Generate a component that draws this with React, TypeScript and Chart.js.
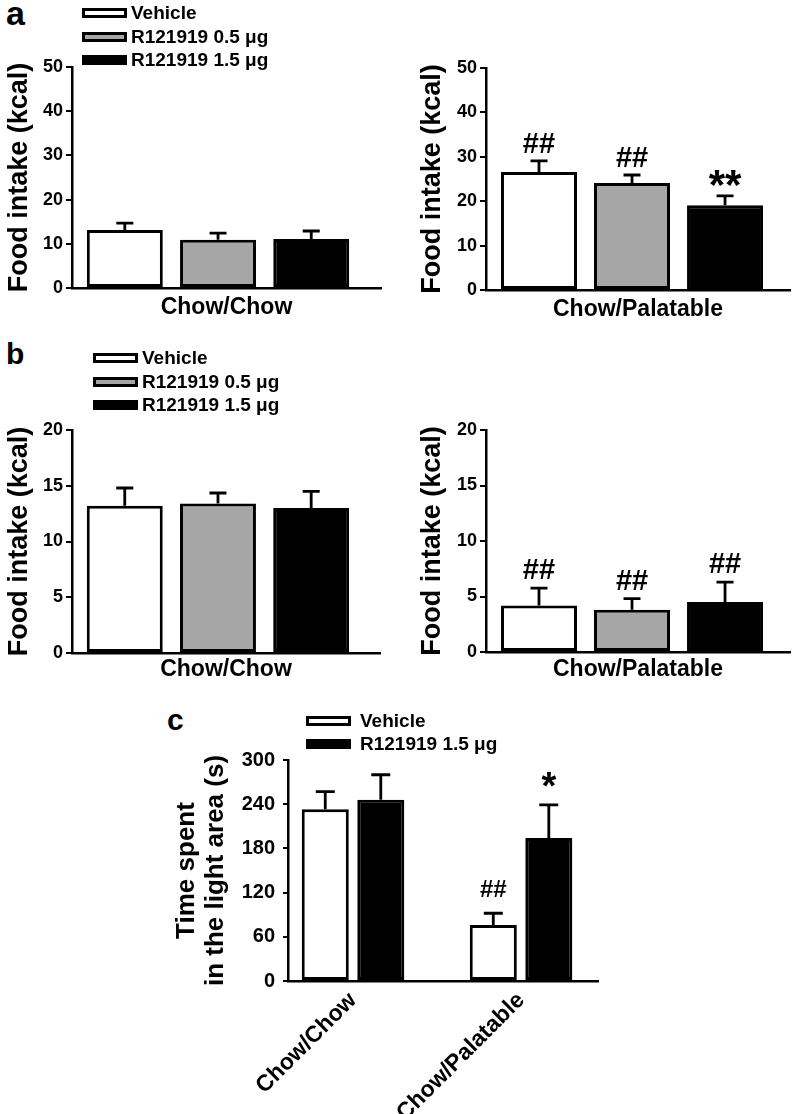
import React, { useEffect, useRef } from 'react';
import { Chart, registerables } from 'chart.js';

Chart.register(...registerables);

const FONT = "'Liberation Sans', Arial, Helvetica, sans-serif";

// ---------------- data ----------------
const dietGroups = ['Chow/Chow', 'Chow/Palatable'];
const treatmentsAB = ['Vehicle', 'R121919 0.5 μg', 'R121919 1.5 μg'];
const treatmentColorsAB = ['#ffffff', '#a6a6a6', '#000000'];
const treatmentsC = ['Vehicle', 'R121919 1.5 μg'];
const treatmentColorsC = ['#ffffff', '#000000'];

const foodTicksA = [0, 10, 20, 30, 40, 50];
const foodTicksB = [0, 5, 10, 15, 20];
const timeTicks = [0, 60, 120, 180, 240, 300];

// panel a (index = treatment)
const aChowMeans = [13.1, 10.9, 11.1];
const aChowSem = [1.6, 1.5, 1.8];
const aChowMarks = ['', '', ''];
const aPalMeans = [26.6, 24.1, 19.1];
const aPalSem = [2.5, 1.8, 2.1];
const aPalMarks = ['##', '##', '**'];

// panel b (index = treatment)
const bChowMeans = [13.2, 13.4, 13.0];
const bChowSem = [1.6, 0.95, 1.5];
const bChowMarks = ['', '', ''];
const bPalMeans = [4.2, 3.8, 4.5];
const bPalSem = [1.55, 1.0, 1.8];
const bPalMarks = ['##', '##', '##'];

// panel c (index = diet group)
const cVehicleMeans = [233, 76];
const cVehicleSem = [24, 16];
const cVehicleMarks = ['', '##'];
const cR15Means = [246, 194];
const cR15Sem = [34, 45];
const cR15Marks = ['', '*'];

// ---------------- helpers ----------------
type Series = { label: string; color: string; means: number[]; sems: number[]; marks: string[] };
type Box = { left: number; top: number; width: number; height: number };
type Area = { left: number; top: number; right: number; bottom: number };
type PanelSpec = {
  box: Box;
  area: Area;
  xRange: [number, number];
  xPositions: number[];
  xLabels?: string[];
  xLabelSize?: number;
  xLabelPad?: number;
  series: Series[];
  catPct: number;
  barPct: number;
  yTicks: number[];
  yTitle: string | string[];
  yTitleSize: number;
  yTitleLine: number;
  yTitleCenterX: number;
  xTitle?: string;
  xTitleCenterY?: number;
  tickSize: number;
  tickLength: number;
  tickPad: number;
  hashSize: number;
  starSize: number;
  markGap: number;
  capWidth: number;
};

function makeErrorPlugin(spec: PanelSpec) {
  return {
    id: 'errorBarsAndMarks',
    afterDatasetsDraw(chart: any) {
      const ctx = chart.ctx as CanvasRenderingContext2D;
      const yScale = chart.scales.y;
      chart.data.datasets.forEach((ds: any, di: number) => {
        const meta = chart.getDatasetMeta(di);
        const se = spec.series[di];
        meta.data.forEach((el: any, j: number) => {
          const v = ds.data[j].y;
          const top = yScale.getPixelForValue(v + se.sems[j]);
          ctx.save();
          ctx.strokeStyle = '#000';
          ctx.lineWidth = 2.8;
          ctx.beginPath();
          ctx.moveTo(el.x, el.y);
          ctx.lineTo(el.x, top);
          ctx.moveTo(el.x - spec.capWidth / 2, top);
          ctx.lineTo(el.x + spec.capWidth / 2, top);
          ctx.stroke();
          const m = se.marks[j];
          if (m) {
            const size = m.includes('*') ? spec.starSize : spec.hashSize;
            ctx.font = `bold ${size}px ${FONT}`;
            ctx.textAlign = 'center';
            ctx.textBaseline = 'alphabetic';
            ctx.fillStyle = '#000';
            const mt = ctx.measureText(m);
            const center = top - spec.markGap;
            const base = center + (mt.actualBoundingBoxAscent - mt.actualBoundingBoxDescent) / 2;
            ctx.fillText(m, el.x, base);
          }
          ctx.restore();
        });
      });
    },
  };
}

function BarPanel({ spec }: { spec: PanelSpec }) {
  const ref = useRef<HTMLCanvasElement>(null);
  useEffect(() => {
    const s = spec;
    const padTop = s.area.top - s.box.top;
    const padRight = s.box.left + s.box.width - s.area.right;
    const yWidth = s.area.left - s.box.left;
    const xHeight = s.box.top + s.box.height - s.area.bottom;
    const yLh = s.yTitleSize * s.yTitleLine;
    const yTitlePadTop = s.yTitleCenterX - s.box.left - yLh / 2;
    const xTitleSize = 23;
    const xLh = xTitleSize * 1.2;
    const xTitlePadBottom = s.xTitleCenterY ? s.box.top + s.box.height - s.xTitleCenterY - xLh / 2 : 0;
    const boldFont = (size: number, lineHeight = 1.2) => ({ family: FONT, size, weight: 'bold' as const, lineHeight });

    const chart = new Chart(ref.current as HTMLCanvasElement, {
      type: 'bar',
      data: {
        datasets: s.series.map((se) => ({
          label: se.label,
          data: se.means.map((m, i) => ({ x: s.xPositions[i], y: m })),
          backgroundColor: se.color,
          borderColor: '#000',
          borderWidth: 3,
          borderSkipped: false,
          categoryPercentage: s.catPct,
          barPercentage: s.barPct,
        })) as any,
      },
      options: {
        responsive: false,
        animation: false,
        devicePixelRatio: 1,
        events: [],
        layout: { padding: { left: 0, top: padTop, right: padRight, bottom: 0 } },
        plugins: { legend: { display: false }, tooltip: { enabled: false }, title: { display: false } },
        scales: {
          x: {
            type: 'linear',
            min: s.xRange[0],
            max: s.xRange[1],
            offset: false,
            afterBuildTicks: (sc: any) => {
              sc.ticks = s.xPositions.map((v) => ({ value: v }));
            },
            afterFit: (sc: any) => {
              sc.height = xHeight;
            },
            grid: { display: true, drawOnChartArea: false, drawTicks: false },
            border: { display: true, color: '#000', width: 2.5 },
            ticks: s.xLabels
              ? {
                  display: true,
                  autoSkip: false,
                  minRotation: 45,
                  maxRotation: 45,
                  color: '#000',
                  padding: s.xLabelPad ?? 3,
                  font: boldFont(s.xLabelSize ?? 23),
                  callback: (v: any) => {
                    const i = s.xPositions.indexOf(Number(v));
                    return i >= 0 ? (s.xLabels as string[])[i] : '';
                  },
                }
              : { display: false },
            title: s.xTitle
              ? {
                  display: true,
                  text: s.xTitle,
                  color: '#000',
                  font: boldFont(xTitleSize),
                  padding: { top: 0, bottom: xTitlePadBottom },
                }
              : { display: false },
          } as any,
          y: {
            type: 'linear',
            min: s.yTicks[0],
            max: s.yTicks[s.yTicks.length - 1],
            afterBuildTicks: (sc: any) => {
              sc.ticks = s.yTicks.map((v) => ({ value: v }));
            },
            afterFit: (sc: any) => {
              sc.width = yWidth;
            },
            grid: {
              display: true,
              drawOnChartArea: false,
              drawTicks: true,
              tickLength: s.tickLength,
              color: '#000',
              lineWidth: 2,
            },
            border: { display: true, color: '#000', width: 2.5 },
            ticks: {
              color: '#000',
              padding: s.tickPad,
              font: boldFont(s.tickSize),
              callback: (v: any) => String(v),
            },
            title: {
              display: true,
              text: s.yTitle,
              color: '#000',
              font: boldFont(s.yTitleSize, s.yTitleLine),
              padding: { top: yTitlePadTop, bottom: 0 },
            },
          } as any,
        },
      },
      plugins: [makeErrorPlugin(s)],
    });
    return () => chart.destroy();
  }, [spec]);
  return (
    <canvas
      ref={ref}
      width={spec.box.width}
      height={spec.box.height}
      style={{
        position: 'absolute',
        left: spec.box.left,
        top: spec.box.top,
        width: spec.box.width,
        height: spec.box.height,
      }}
    />
  );
}

function Legend({
  rectLeft,
  textLeft,
  firstCenter,
  rowGap,
  labels,
  colors,
}: {
  rectLeft: number;
  textLeft: number;
  firstCenter: number;
  rowGap: number;
  labels: string[];
  colors: string[];
}) {
  return (
    <>
      {labels.map((lab, i) => {
        const c = firstCenter + i * rowGap;
        return (
          <React.Fragment key={lab}>
            <div
              style={{
                position: 'absolute',
                left: rectLeft,
                top: c - 5,
                width: 45,
                height: 10,
                boxSizing: 'border-box',
                border: '3px solid #000',
                background: colors[i],
              }}
            />
            <span
              style={{
                position: 'absolute',
                left: textLeft,
                top: c - 12,
                lineHeight: '24px',
                fontSize: 19,
                fontWeight: 'bold',
                whiteSpace: 'nowrap',
              }}
            >
              {lab}
            </span>
          </React.Fragment>
        );
      })}
    </>
  );
}

function Letter({ text, left, top, size }: { text: string; left: number; top: number; size: number }) {
  return (
    <span style={{ position: 'absolute', left, top, fontSize: size, lineHeight: 1, fontWeight: 'bold' }}>{text}</span>
  );
}

const foodTitle = 'Food intake (kcal)';
const timeTitle = ['Time spent', 'in the light area (s)'];

const common = {
  yTitleSize: 27,
  yTitleLine: 1.2,
  tickSize: 18,
  tickLength: 6,
  tickPad: 3,
  hashSize: 29,
  starSize: 42,
  markGap: 18,
  capWidth: 17,
};

function seriesAB(means: number[], sems: number[], marks: string[]): Series[] {
  return treatmentsAB.map((label, i) => ({
    label,
    color: treatmentColorsAB[i],
    means: [means[i]],
    sems: [sems[i]],
    marks: [marks[i]],
  }));
}

const specALeft: PanelSpec = {
  ...common,
  box: { left: 0, top: 50, width: 395, height: 280 },
  area: { left: 72, top: 67, right: 381, bottom: 288 },
  xRange: [0, 2.116],
  xPositions: [1],
  series: seriesAB(aChowMeans, aChowSem, aChowMarks),
  catPct: 0.905,
  barPct: 0.815,
  yTicks: foodTicksA,
  yTitle: foodTitle,
  yTitleCenterX: 20,
  xTitle: dietGroups[0],
  xTitleCenterY: 308,
};

const specARight: PanelSpec = {
  ...common,
  box: { left: 400, top: 50, width: 398, height: 280 },
  area: { left: 486, top: 68, right: 790, bottom: 290 },
  xRange: [0, 2.082],
  xPositions: [1],
  series: seriesAB(aPalMeans, aPalSem, aPalMarks),
  catPct: 0.918,
  barPct: 0.817,
  yTicks: foodTicksA,
  yTitle: foodTitle,
  yTitleCenterX: 433,
  xTitle: dietGroups[1],
  xTitleCenterY: 310,
};

const specBLeft: PanelSpec = {
  ...common,
  box: { left: 0, top: 410, width: 395, height: 280 },
  area: { left: 72, top: 430, right: 380, bottom: 653 },
  xRange: [0, 2.11],
  xPositions: [1],
  series: seriesAB(bChowMeans, bChowSem, bChowMarks),
  catPct: 0.908,
  barPct: 0.815,
  yTicks: foodTicksB,
  yTitle: foodTitle,
  yTitleCenterX: 20,
  xTitle: dietGroups[0],
  xTitleCenterY: 670,
};

const specBRight: PanelSpec = {
  ...common,
  box: { left: 400, top: 410, width: 398, height: 280 },
  area: { left: 486, top: 430, right: 790, bottom: 652 },
  xRange: [0, 2.082],
  xPositions: [1],
  series: seriesAB(bPalMeans, bPalSem, bPalMarks),
  catPct: 0.918,
  barPct: 0.817,
  yTicks: foodTicksB,
  yTitle: foodTitle,
  yTitleCenterX: 433,
  xTitle: dietGroups[1],
  xTitleCenterY: 670,
  markGap: 19,
};

const specC: PanelSpec = {
  ...common,
  box: { left: 150, top: 740, width: 460, height: 374 },
  area: { left: 288, top: 760, right: 598, bottom: 981 },
  xRange: [0.613, 2.458],
  xPositions: [1, 2],
  xLabels: dietGroups,
  xLabelSize: 23,
  xLabelPad: 6,
  series: [
    { label: treatmentsC[0], color: treatmentColorsC[0], means: cVehicleMeans, sems: cVehicleSem, marks: cVehicleMarks },
    { label: treatmentsC[1], color: treatmentColorsC[1], means: cR15Means, sems: cR15Sem, marks: cR15Marks },
  ],
  catPct: 0.661,
  barPct: 0.847,
  yTicks: timeTicks,
  yTitle: timeTitle,
  yTitleSize: 26,
  yTitleLine: 1.1,
  yTitleCenterX: 187,
  tickSize: 20,
  tickLength: 5,
  tickPad: 8,
  hashSize: 24,
  starSize: 38,
  markGap: 25,
  capWidth: 19,
};

export default function App() {
  return (
    <div
      style={{
        position: 'absolute',
        left: 0,
        top: 0,
        width: 798,
        height: 1114,
        background: '#fff',
        overflow: 'hidden',
        fontFamily: FONT,
        color: '#000',
      }}
    >
      <BarPanel spec={specALeft} />
      <BarPanel spec={specARight} />
      <BarPanel spec={specBLeft} />
      <BarPanel spec={specBRight} />
      <BarPanel spec={specC} />

      <Letter text="a" left={6} top={-4} size={34} />
      <Letter text="b" left={6} top={339} size={30} />
      <Letter text="c" left={167} top={705} size={30} />

      <Legend rectLeft={82} textLeft={131} firstCenter={13} rowGap={23.5} labels={treatmentsAB} colors={treatmentColorsAB} />
      <Legend rectLeft={93} textLeft={142} firstCenter={358} rowGap={23.5} labels={treatmentsAB} colors={treatmentColorsAB} />
      <Legend rectLeft={306} textLeft={360} firstCenter={721} rowGap={23} labels={treatmentsC} colors={treatmentColorsC} />
    </div>
  );
}
